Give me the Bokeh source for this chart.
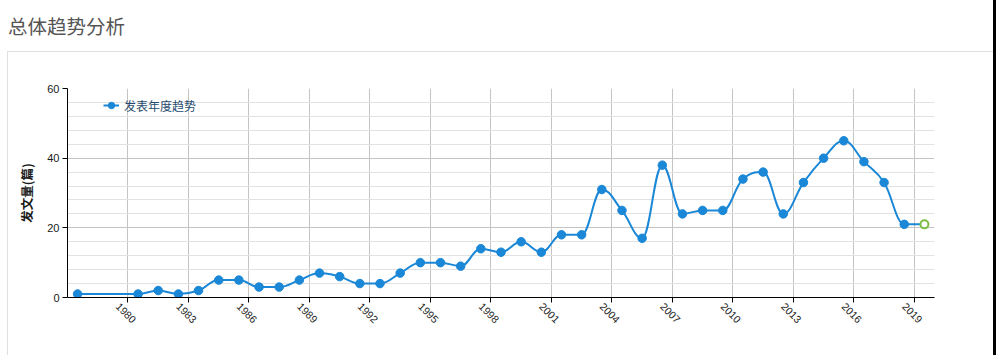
import math
from bokeh.plotting import figure
from bokeh.layouts import column
from bokeh.models import (Range1d, FixedTicker, Legend, LegendItem, Div)
from bokeh.embed import file_html
from bokeh.resources import INLINE

# ---- data ----
years = [1978, 1981, 1982, 1983, 1984, 1985, 1986, 1987, 1988, 1989, 1990,
         1991, 1992, 1993, 1994, 1995, 1996, 1997, 1998, 1999, 2000,
         2001, 2002, 2003, 2004, 2005, 2006, 2007, 2008, 2009, 2010,
         2011, 2012, 2013, 2014, 2015, 2016, 2017, 2018, 2019, 2020]
counts = [1, 1, 2, 1, 2, 5, 5, 3, 3, 5, 7,
          6, 4, 4, 7, 10, 10, 9, 14, 13, 16,
          13, 18, 18, 31, 25, 17, 38, 24, 25, 25,
          34, 36, 24, 33, 40, 45, 39, 33, 21, 21]
label_years = [1980, 1983, 1986, 1989, 1992, 1995, 1998, 2001, 2004, 2007,
               2010, 2013, 2016, 2019]
y_ticks = [0, 20, 40, 60]
y_minor = [4, 8, 12, 16, 24, 28, 32, 36, 44, 48, 52, 56]
series_name = "发表年度趋势"
y_title = "发文量(篇)"
page_title = "总体趋势分析"

BLUE = "#1a87d7"
GREEN = "#7cbd42"
CARD = "#e0e0e0"


# Highcharts-like spline control points (rendering only)
def spline_segments(xs, ys, smoothing=1.5):
    n = len(xs)
    denom = smoothing + 1
    left = [None] * n
    right = [None] * n
    for i in range(1, n - 1):
        lx, ly = xs[i - 1], ys[i - 1]
        px, py = xs[i], ys[i]
        nx, ny = xs[i + 1], ys[i + 1]
        lcx = (smoothing * px + lx) / denom
        lcy = (smoothing * py + ly) / denom
        rcx = (smoothing * px + nx) / denom
        rcy = (smoothing * py + ny) / denom
        corr = 0.0
        if rcx != lcx:
            corr = ((rcy - lcy) * (rcx - px)) / (rcx - lcx) + py - rcy
        lcy += corr
        rcy += corr
        if lcy > ly and lcy > py:
            lcy = max(ly, py); rcy = 2 * py - lcy
        elif lcy < ly and lcy < py:
            lcy = min(ly, py); rcy = 2 * py - lcy
        if rcy > ny and rcy > py:
            rcy = max(ny, py); lcy = 2 * py - rcy
        elif rcy < ny and rcy < py:
            rcy = min(ny, py); lcy = 2 * py - rcy
        left[i] = (lcx, lcy)
        right[i] = (rcx, rcy)
    seg = dict(x0=[], y0=[], x1=[], y1=[], cx0=[], cy0=[], cx1=[], cy1=[])
    for i in range(n - 1):
        c0 = right[i] or (xs[i], ys[i])
        c1 = left[i + 1] or (xs[i + 1], ys[i + 1])
        seg["x0"].append(xs[i]); seg["y0"].append(ys[i])
        seg["x1"].append(xs[i + 1]); seg["y1"].append(ys[i + 1])
        seg["cx0"].append(c0[0]); seg["cy0"].append(c0[1])
        seg["cx1"].append(c1[0]); seg["cy1"].append(c1[1])
    return seg


# ---- page title ----
title_div = Div(
    text=('<div style="padding:13px 0 0 8px;line-height:26px;font-size:19.5px;'
          'font-family:\'Noto Sans CJK SC\';color:#555555;white-space:nowrap;">'
          + page_title + '</div>'),
    width=996, height=51, margin=(0, 0, 0, 0),
    styles={"background": "linear-gradient(to right, #ffffff 993px, #000000 993px)"})

# ---- chart ----
p = figure(width=996, height=304, output_backend="svg", toolbar_location=None,
           x_range=Range1d(years[0] - 0.5, years[-1] + 0.5),
           y_range=Range1d(y_ticks[0], y_ticks[-1]),
           min_border_left=67, min_border_right=62,
           min_border_top=37, min_border_bottom=58,
           background_fill_color="white", border_fill_color=None,
           outline_line_color=None, margin=(0, 0, 0, 0))

# card border + right dark edge (page decoration behind the canvas)
p.styles = {
    "background-color": "#ffffff",
    "background-image": ("linear-gradient(%s,%s), linear-gradient(%s,%s), "
                         "linear-gradient(#000000,#000000)" % (CARD, CARD, CARD, CARD)),
    "background-size": "985px 1px, 1px 304px, 4px 304px",
    "background-position": "8px 0px, 7px 0px, 993px 0px",
    "background-repeat": "no-repeat",
}

# x axis: year labels at categories, tick marks / grid lines between categories
p.xaxis.ticker = FixedTicker(ticks=label_years,
                             minor_ticks=[y + 0.5 for y in label_years])
p.xaxis.major_tick_line_color = None
p.xaxis.major_tick_out = 0
p.xaxis.major_tick_in = 0
p.xaxis.minor_tick_line_color = "black"
p.xaxis.minor_tick_out = 5
p.xaxis.minor_tick_in = 0
p.xaxis.axis_line_color = "black"
p.xaxis.major_label_orientation = -math.pi / 4
p.xaxis.major_label_text_font = "Liberation Sans"
p.xaxis.major_label_text_font_size = "10.5px"
p.xaxis.major_label_text_color = "#1a1a1a"
p.xaxis.major_label_standoff = 2
p.xgrid.grid_line_color = None
p.xgrid.minor_grid_line_color = "#c4c4c4"

# y axis
p.yaxis.ticker = FixedTicker(ticks=y_ticks, minor_ticks=y_minor)
p.yaxis.major_tick_out = 5
p.yaxis.major_tick_in = 0
p.yaxis.minor_tick_line_color = None
p.yaxis.axis_line_color = "black"
p.yaxis.major_tick_line_color = "black"
p.yaxis.major_label_text_font = "Liberation Sans"
p.yaxis.major_label_text_font_size = "11px"
p.yaxis.major_label_text_color = "#1a1a1a"
p.yaxis.major_label_standoff = 3
p.yaxis.axis_label = y_title
p.yaxis.axis_label_text_font = "Noto Sans CJK SC"
p.yaxis.axis_label_text_font_style = "bold"
p.yaxis.axis_label_text_font_size = "12.5px"
p.yaxis.axis_label_text_color = "#1a1a1a"
p.yaxis.axis_label_standoff = 8
p.ygrid.grid_line_color = "#c4c4c4"
p.ygrid.minor_grid_line_color = "#e2e2e2"

# series
seg = spline_segments(years, counts)
bez = p.bezier(x0=seg["x0"], y0=seg["y0"], x1=seg["x1"], y1=seg["y1"],
               cx0=seg["cx0"], cy0=seg["cy0"], cx1=seg["cx1"], cy1=seg["cy1"],
               line_color=BLUE, line_width=2)
pts = p.scatter(years[:-1], counts[:-1], size=8.5, fill_color=BLUE, line_color=BLUE)
p.scatter(years[-1:], counts[-1:], size=8, fill_color="white",
          line_color=GREEN, line_width=2)

legend = Legend(items=[LegendItem(label=series_name, renderers=[bez, pts])],
                location=(36, 182), orientation="horizontal",
                border_line_color=None, background_fill_alpha=0,
                label_text_font="Noto Sans CJK SC", label_text_font_size="12px",
                label_text_color="#274b6d", glyph_width=16,
                padding=0, margin=0, spacing=0, label_standoff=5)
p.add_layout(legend)

page = column(title_div, p, spacing=0, margin=(0, 0, 0, 0))

open("out.html", "w").write(file_html(page, INLINE))
